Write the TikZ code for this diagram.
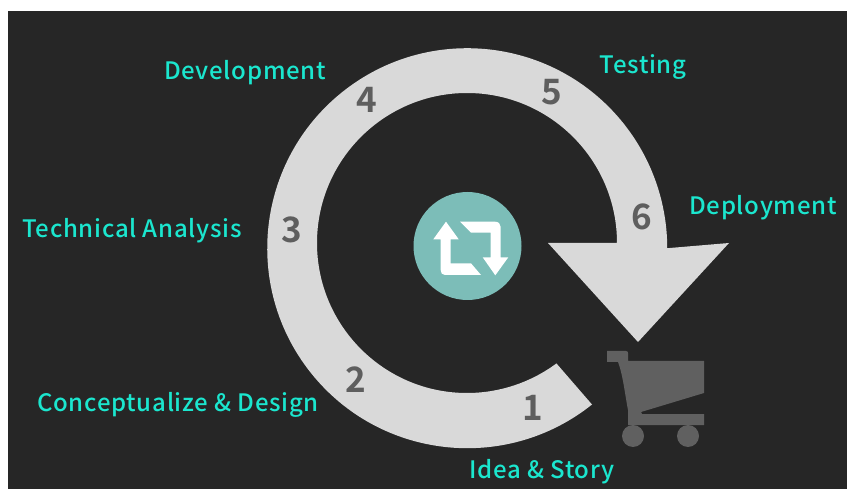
\documentclass[tikz,border=0pt]{standalone}
\usepackage{fontspec}
\setmainfont{Noto Sans CJK JP}[UprightFont=* Medium,BoldFont=* Bold,LetterSpace=3]
\newfontfamily\numfont{Noto Sans CJK JP Bold}
\definecolor{bgc}{HTML}{262626}
\definecolor{ringc}{HTML}{D9D9D9}
\definecolor{numc}{HTML}{5E5E5E}
\definecolor{labc}{HTML}{1BE6CE}
\definecolor{cartc}{HTML}{606060}
\definecolor{tealc}{HTML}{7CBDB8}
\tikzset{
  lab/.style={text=labc,font=\fontsize{24}{27}\selectfont,inner sep=0pt,anchor=center},
  num/.style={text=numc,font=\numfont\fontsize{35}{36}\selectfont,inner sep=0pt,anchor=center}
}
\begin{document}
\begin{tikzpicture}[x=1pt,y=-1pt]
\useasboundingbox (0,0) rectangle (847,489);
\fill[white] (0,0) rectangle (847,489);
\fill[bgc] (8,11) rectangle (847,489);
% ring and arrow
\fill[ringc] (592,404.5)
  arc[start angle=51.4,end angle=360-0,radius=200]
  -- (729,243) -- (638,342) -- (548,243) -- (617,243)
  arc[start angle=360,end angle=53.4,radius=150] -- cycle;
% icon
\fill[tealc] (467.5,246) circle[radius=54];
\fill[white]
  (446,221.7) -- (458.7,239.3) -- (450.7,239.3) -- (450.7,263.3) -- (471,263.3) -- (481,275)
  -- (445,275) .. controls (442,275) and (440.7,273) .. (440.7,270) -- (440.7,239.3) -- (433.3,239.3) -- cycle;
\fill[white]
  (460,221.7) -- (495,221.7) .. controls (498.5,221.7) and (500.7,224) .. (500.7,227)
  -- (500.7,257.3) -- (508.3,257.3) -- (495.3,275.3) -- (482.7,257.3) -- (490.7,257.3)
  -- (490.7,232.7) -- (471,232.7) -- cycle;
% cart
\fill[cartc] (607,351) -- (626,351) .. controls (627.5,351) and (628,352) .. (628,353) -- (628,361)
  -- (704,361) -- (704,393) -- (641,412) -- (642,414) -- (704,414) -- (704,425) -- (628,425)
  -- (628,410) .. controls (625,395) and (623,375) .. (618,362) -- (607,362) -- cycle;
\fill[cartc] (633,436) circle[radius=11];
\fill[cartc] (688,436) circle[radius=11];
% labels
\node[lab] (l1) at (542,472) {Idea \& Story};
\node[lab] (l2) at (178,405) {Conceptualize \& Design};
\node[lab] (l3) at (132,231) {Technical Analysis};
\node[lab] (l4) at (245,73) {Development};
\node[lab] (l5) at (643,67) {Testing};
\node[lab] (l6) at (763,208) {Deployment};
\node[num] (n1) at (533,408) {1};
\node[num] (n2) at (356,380) {2};
\node[num] (n3) at (292,230) {3};
\node[num] (n4) at (367,100) {4};
\node[num] (n5) at (552,92) {5};
\node[num] (n6) at (642,217) {6};
\end{tikzpicture}
\end{document}
